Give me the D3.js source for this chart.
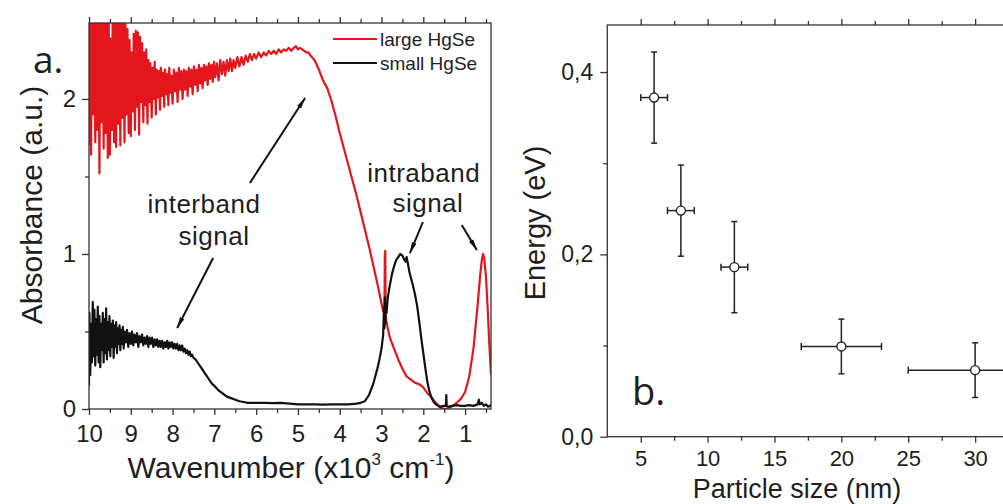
<!DOCTYPE html>
<html><head><meta charset="utf-8">
<script src="https://cdn.jsdelivr.net/npm/d3@7/dist/d3.min.js"></script>
<style>
html,body{margin:0;padding:0;background:#fff;}
svg{display:block;}
text{font-family:"Liberation Sans",Arial,sans-serif;fill:#1e1e1e;}
.tick line,.domain{stroke:#333;stroke-width:1.3;}
</style></head>
<body><svg id="c" width="1003" height="504"></svg>
<script>
// ---------- Panel a: absorbance spectra [wavenumber (x10^3 cm-1), absorbance] ----------
const largeHgSe = [
[10.00,1.70],[9.98,2.80],[9.95,1.64],[9.93,2.70],[9.90,1.90],[9.88,2.90],[9.85,1.72],[9.83,2.65],[9.80,1.80],[9.78,2.75],
[9.75,1.52],[9.73,2.60],[9.70,1.85],[9.68,2.85],[9.65,1.68],[9.63,2.70],[9.60,1.78],[9.58,2.62],[9.55,1.62],[9.53,2.55],
[9.50,1.64],[9.48,2.39],[9.45,1.80],[9.43,2.70],[9.40,1.72],[9.38,2.80],[9.35,1.69],[9.33,2.65],[9.30,1.84],[9.28,2.58],
[9.25,1.70],[9.23,2.62],[9.20,1.88],[9.18,2.55],[9.15,1.72],[9.13,2.50],[9.10,1.90],[9.08,2.45],[9.05,1.78],[9.03,2.38],
[9.00,1.76],[8.98,2.30],[8.95,1.92],[8.93,2.42],[8.90,1.80],[8.88,2.44],[8.85,1.95],[8.83,2.43],[8.80,1.77],[8.78,2.40],
[8.75,1.98],[8.73,2.36],[8.70,1.85],[8.68,2.30],[8.65,1.96],[8.63,2.32],[8.60,1.84],[8.58,2.25],[8.55,1.98],[8.53,2.23],
[8.50,1.88],[8.48,2.20],[8.45,2.00],[8.43,2.24],[8.40,1.90],[8.38,2.19],[8.35,2.01],[8.33,2.18],[8.30,1.93],[8.28,2.20],
[8.25,2.02],[8.23,2.17],[8.20,1.95],[8.18,2.19],[8.15,2.03],[8.13,2.16],[8.10,1.96],[8.08,2.20],[8.05,2.04],[8.03,2.15],
[8.00,1.97],[7.97,2.19],[7.94,2.05],[7.91,2.17],[7.88,1.98],[7.85,2.20],[7.82,2.06],[7.79,2.18],[7.76,2.00],[7.73,2.19],
[7.70,2.06],[7.67,2.18],[7.64,2.02],[7.61,2.20],[7.58,2.08],[7.55,2.19],[7.52,2.03],[7.49,2.21],[7.46,2.09],[7.43,2.19],
[7.40,2.05],[7.37,2.22],[7.34,2.10],[7.31,2.20],[7.28,2.07],[7.25,2.22],[7.22,2.12],[7.19,2.21],[7.16,2.09],[7.13,2.23],
[7.10,2.13],[7.07,2.22],[7.04,2.11],[7.01,2.24],[6.98,2.14],[6.94,2.23],[6.90,2.12],[6.86,2.25],[6.82,2.16],[6.78,2.24],
[6.74,2.15],[6.70,2.25],[6.66,2.18],[6.62,2.26],[6.58,2.18],[6.54,2.25],[6.50,2.20],[6.45,2.27],[6.40,2.21],[6.35,2.27],
[6.30,2.22],[6.25,2.28],[6.20,2.24],[6.15,2.29],[6.10,2.25],[6.05,2.29],[6.00,2.26],[5.94,2.30],[5.88,2.27],[5.82,2.30],
[5.76,2.28],[5.70,2.31],[5.64,2.29],[5.58,2.31],[5.52,2.29],[5.46,2.32],[5.40,2.30],[5.34,2.32],[5.28,2.31],[5.22,2.33],
[5.16,2.31],[5.10,2.33],[5.05,2.34],[5.00,2.32],[4.95,2.33],[4.90,2.32],[4.85,2.31],[4.80,2.30],[4.75,2.30],[4.70,2.28],
[4.60,2.25],[4.50,2.19],[4.40,2.12],[4.30,2.07],[4.20,1.99],[4.10,1.89],[4.00,1.78],[3.90,1.68],[3.80,1.58],[3.70,1.48],
[3.60,1.38],[3.50,1.27],[3.40,1.16],[3.30,1.05],[3.20,0.93],[3.10,0.81],[3.00,0.68],[2.96,0.63],[2.93,0.64],[2.92,1.00],
[2.91,1.02],[2.90,0.60],[2.88,0.56],[2.85,0.52],[2.80,0.46],[2.70,0.39],[2.60,0.32],[2.50,0.26],[2.40,0.21],[2.30,0.19],
[2.20,0.17],[2.10,0.16],[2.00,0.14],[1.90,0.10],[1.80,0.075],[1.70,0.04],[1.60,0.01],[1.50,0.00],[1.40,0.005],[1.30,0.02],
[1.20,0.04],[1.10,0.065],[1.00,0.11],[0.90,0.21],[0.80,0.39],[0.70,0.67],[0.64,0.86],[0.60,0.96],[0.57,1.00],[0.54,0.97],
[0.50,0.85],[0.46,0.65],[0.42,0.42],[0.38,0.22]
];
const smallHgSe = [
[10.00,0.15],[9.99,0.62],[9.97,0.22],[9.95,0.55],[9.93,0.30],[9.91,0.69],[9.89,0.34],[9.87,0.64],[9.85,0.28],[9.83,0.58],
[9.81,0.35],[9.79,0.66],[9.77,0.30],[9.75,0.60],[9.73,0.27],[9.71,0.55],[9.69,0.38],[9.67,0.62],[9.65,0.30],[9.63,0.58],
[9.61,0.36],[9.59,0.65],[9.57,0.32],[9.55,0.56],[9.53,0.38],[9.51,0.60],[9.49,0.34],[9.47,0.55],[9.45,0.40],[9.43,0.57],
[9.41,0.33],[9.39,0.54],[9.37,0.40],[9.35,0.56],[9.33,0.36],[9.31,0.52],[9.29,0.42],[9.27,0.54],[9.25,0.38],[9.23,0.51],
[9.21,0.42],[9.19,0.53],[9.17,0.39],[9.15,0.50],[9.12,0.43],[9.09,0.51],[9.06,0.40],[9.03,0.49],[9.00,0.42],[8.97,0.50],
[8.94,0.41],[8.91,0.48],[8.88,0.43],[8.85,0.49],[8.82,0.40],[8.79,0.47],[8.76,0.43],[8.73,0.48],[8.70,0.41],[8.67,0.46],
[8.64,0.42],[8.61,0.47],[8.58,0.40],[8.55,0.46],[8.52,0.42],[8.49,0.46],[8.46,0.40],[8.43,0.45],[8.40,0.41],[8.37,0.45],
[8.34,0.40],[8.31,0.44],[8.28,0.40],[8.25,0.44],[8.22,0.39],[8.19,0.43],[8.16,0.40],[8.13,0.44],[8.10,0.39],[8.07,0.43],
[8.04,0.40],[8.01,0.43],[7.98,0.39],[7.95,0.42],[7.92,0.39],[7.89,0.42],[7.86,0.38],[7.83,0.41],[7.80,0.38],[7.77,0.41],
[7.74,0.37],[7.71,0.39],[7.68,0.36],[7.65,0.38],[7.62,0.35],[7.59,0.37],[7.56,0.34],[7.53,0.35],[7.50,0.33],[7.45,0.32],
[7.40,0.30],[7.35,0.28],[7.30,0.26],[7.25,0.24],[7.20,0.22],[7.15,0.20],[7.10,0.18],[7.05,0.16],[7.00,0.15],[6.90,0.12],
[6.80,0.10],[6.70,0.08],[6.60,0.07],[6.50,0.06],[6.40,0.05],[6.30,0.045],[6.20,0.04],[6.00,0.04],[5.80,0.04],[5.60,0.038],
[5.40,0.04],[5.20,0.035],[5.00,0.03],[4.80,0.03],[4.60,0.03],[4.40,0.028],[4.20,0.03],[4.00,0.03],[3.80,0.03],[3.60,0.035],
[3.50,0.04],[3.40,0.05],[3.30,0.09],[3.20,0.16],[3.10,0.26],[3.05,0.32],[3.00,0.39],[2.96,0.48],[2.94,0.66],[2.93,0.52],
[2.92,0.72],[2.91,0.55],[2.90,0.68],[2.88,0.62],[2.85,0.72],[2.80,0.80],[2.75,0.87],[2.70,0.92],[2.65,0.96],[2.60,0.98],
[2.55,1.00],[2.50,0.99],[2.45,0.96],[2.42,0.95],[2.40,0.98],[2.37,0.94],[2.33,0.88],[2.30,0.85],[2.25,0.80],[2.20,0.74],
[2.15,0.67],[2.10,0.57],[2.05,0.46],[2.00,0.36],[1.95,0.26],[1.90,0.17],[1.85,0.11],[1.80,0.07],[1.75,0.045],[1.70,0.03],
[1.60,0.015],[1.50,0.02],[1.46,0.02],[1.45,0.09],[1.44,0.02],[1.40,0.015],[1.30,0.02],[1.20,0.025],[1.10,0.02],[1.00,0.02],
[0.90,0.025],[0.80,0.02],[0.70,0.03],[0.67,0.06],[0.65,0.03],[0.60,0.04],[0.55,0.02],[0.50,0.03],[0.45,0.015],[0.40,0.02],
[0.38,0.03]
];
const seriesNames = ["large HgSe","small HgSe"];
const seriesColors = ["#e2161c","#111111"];
const wnMajorTicks = [10,9,8,7,6,5,4,3,2,1];
const wnMinorTicks = [9.5,8.5,7.5,6.5,5.5,4.5,3.5,2.5,1.5,0.5];
const absMajorTicks = [0,1,2];
const absMinorTicks = [0.5,1.5];
// annotations in data coordinates: [wavenumber, absorbance]
const annoTexts = [["interband",7.25,1.265],["signal",7.01,1.058],["intraband",1.99,1.465],["signal",1.89,1.271]];
const annoArrows = [[6.15,1.458,4.83,2.006],[7.03,0.974,7.89,0.523],[2.01,1.206,2.32,1.006],[1.08,1.187,0.72,1.026]];

// ---------- Panel b: energy vs particle size ----------
const particleSize = [6,8,12,20,30];
const energy = [0.372,0.248,0.186,0.099,0.073];
const sizeErr = [1,1,1,3,5];
const energyErr = [0.05,0.05,0.05,0.03,0.03];
const sizeMajorTicks = [5,10,15,20,25,30];
const sizeMinorTicks = [7.5,12.5,17.5,22.5,27.5];
const energyMajorTicks = [0,0.2,0.4];
const energyMinorTicks = [0.1,0.3];

const svg = d3.select("#c");
svg.append("rect").attr("width",1003).attr("height",504).attr("fill","#fff");
svg.append("defs").append("marker").attr("id","arr").attr("viewBox","0 0 12 6")
  .attr("refX",11).attr("refY",3).attr("markerWidth",12).attr("markerHeight",6)
  .attr("markerUnits","userSpaceOnUse").attr("orient","auto")
  .append("path").attr("d","M0,0.6 L12,3 L0,5.4 Z").attr("fill","#111");

// ===== Panel a =====
const xa = d3.scaleLinear().domain([10,0.38]).range([89,491]);
const ya = d3.scaleLinear().domain([0,2.49]).range([409,23]);
const ga = svg.append("g");
ga.append("clipPath").attr("id","clipA").append("rect")
  .attr("x",xa(10)).attr("y",ya(2.49)).attr("width",xa(0.38)-xa(10)).attr("height",ya(0)-ya(2.49));
const lineA = d3.line().x(d=>xa(d[0])).y(d=>ya(d[1]));
const curves = ga.append("g").attr("clip-path","url(#clipA)");
[largeHgSe, smallHgSe].forEach((s,i)=>{
  curves.append("path").datum(s).attr("d",lineA).attr("fill","none")
    .attr("stroke",seriesColors[i]).attr("stroke-width",2.2).attr("stroke-linejoin","round");
});
// frame
ga.append("rect").attr("x",xa(10)).attr("y",ya(2.49)).attr("width",xa(0.38)-xa(10)).attr("height",ya(0)-ya(2.49))
  .attr("fill","none").attr("stroke","#333").attr("stroke-width",1.3);
function styleAxis(g,fs){ g.select(".domain").remove(); g.selectAll("text").attr("font-size",fs).style("fill","#1e1e1e"); }
ga.append("g").attr("transform",`translate(0,${ya(0)})`)
  .call(d3.axisBottom(xa).tickValues(wnMajorTicks).tickFormat(d3.format("d")).tickSize(6).tickPadding(10)).call(g=>styleAxis(g,24));
ga.append("g").attr("transform",`translate(0,${ya(0)})`)
  .call(d3.axisBottom(xa).tickValues(wnMinorTicks).tickFormat("").tickSize(4)).call(g=>styleAxis(g,24));
ga.append("g").attr("transform",`translate(0,${ya(2.49)})`)
  .call(d3.axisTop(xa).tickValues(wnMajorTicks).tickFormat("").tickSize(6)).call(g=>styleAxis(g,24));
ga.append("g").attr("transform",`translate(0,${ya(2.49)})`)
  .call(d3.axisTop(xa).tickValues(wnMinorTicks).tickFormat("").tickSize(4)).call(g=>styleAxis(g,24));
ga.append("g").attr("transform",`translate(${xa(10)},0)`)
  .call(d3.axisLeft(ya).tickValues(absMajorTicks).tickFormat(d3.format("d")).tickSize(7).tickPadding(6)).call(g=>styleAxis(g,24));
ga.append("g").attr("transform",`translate(${xa(10)},0)`)
  .call(d3.axisLeft(ya).tickValues(absMinorTicks).tickFormat("").tickSize(4)).call(g=>styleAxis(g,24));
// titles
const wt = ga.append("text").attr("x",291).attr("y",478).attr("text-anchor","middle").attr("font-size",30);
wt.append("tspan").text("Wavenumber (x10");
wt.append("tspan").attr("font-size",17).attr("dy",-13).text("3");
wt.append("tspan").attr("dy",13).text(" cm");
wt.append("tspan").attr("font-size",17).attr("dy",-13).text("-1");
wt.append("tspan").attr("dy",13).text(")");
ga.append("text").attr("transform","translate(42,205) rotate(-90)").attr("text-anchor","middle")
  .attr("font-size",30).text("Absorbance (a.u.)");
ga.append("text").attr("x",33).attr("y",73).attr("font-size",37).style("font-family","'Open Sans',sans-serif").text("a.");
// legend
seriesNames.forEach((n,i)=>{
  ga.append("line").attr("x1",333).attr("x2",377).attr("y1",39+24*i).attr("y2",39+24*i)
    .attr("stroke",seriesColors[i]).attr("stroke-width",2);
  ga.append("text").attr("x",380).attr("y",46+24*i).attr("font-size",19).text(n);
});
// annotations
annoTexts.forEach(t=>{
  ga.append("text").attr("x",xa(t[1])).attr("y",ya(t[2])).attr("text-anchor","middle")
    .attr("font-size",26).attr("letter-spacing",0.5).text(t[0]);
});
annoArrows.forEach(a=>{
  ga.append("line").attr("x1",xa(a[0])).attr("y1",ya(a[1])).attr("x2",xa(a[2])).attr("y2",ya(a[3]))
    .attr("stroke","#111").attr("stroke-width",2).attr("marker-end","url(#arr)");
});

// ===== Panel b =====
const xb = d3.scaleLinear().domain([2.5,35]).range([607.3,1042]);
const yb = d3.scaleLinear().domain([0,0.4516]).range([436.7,25]);
const gb = svg.append("g");
gb.append("rect").attr("x",xb(2.5)).attr("y",yb(0.4516)).attr("width",xb(35)-xb(2.5)).attr("height",yb(0)-yb(0.4516))
  .attr("fill","none").attr("stroke","#333").attr("stroke-width",1.3);
gb.append("g").attr("transform",`translate(0,${yb(0)})`)
  .call(d3.axisBottom(xb).tickValues(sizeMajorTicks).tickFormat(d3.format("d")).tickSize(6).tickPadding(8)).call(g=>styleAxis(g,22));
gb.append("g").attr("transform",`translate(0,${yb(0)})`)
  .call(d3.axisBottom(xb).tickValues(sizeMinorTicks).tickFormat("").tickSize(4)).call(g=>styleAxis(g,22));
gb.append("g").attr("transform",`translate(0,${yb(0.4516)})`)
  .call(d3.axisTop(xb).tickValues(sizeMajorTicks).tickFormat("").tickSize(6)).call(g=>styleAxis(g,22));
gb.append("g").attr("transform",`translate(0,${yb(0.4516)})`)
  .call(d3.axisTop(xb).tickValues(sizeMinorTicks).tickFormat("").tickSize(4)).call(g=>styleAxis(g,22));
gb.append("g").attr("transform",`translate(${xb(2.5)},0)`)
  .call(d3.axisLeft(yb).tickValues(energyMajorTicks).tickFormat(d=>d.toFixed(1).replace(".",",")).tickSize(7).tickPadding(7)).call(g=>styleAxis(g,23));
gb.append("g").attr("transform",`translate(${xb(2.5)},0)`)
  .call(d3.axisLeft(yb).tickValues(energyMinorTicks).tickFormat("").tickSize(4)).call(g=>styleAxis(g,23));
gb.append("text").attr("x",797).attr("y",498).attr("text-anchor","middle").attr("font-size",27).text("Particle size (nm)");
gb.append("text").attr("transform","translate(545,223) rotate(-90)").attr("text-anchor","middle")
  .attr("font-size",29).text("Energy (eV)");
gb.append("text").attr("x",632).attr("y",405).attr("font-size",38).style("font-family","'Open Sans',sans-serif").text("b.");
const pts = particleSize.map((s,i)=>({s, e:energy[i], se:sizeErr[i], ee:energyErr[i]}));
const eb = gb.append("g").attr("stroke","#222").attr("stroke-width",1.5).attr("fill","none");
pts.forEach(p=>{
  const cx=xb(p.s), cy=yb(p.e), x1=xb(p.s-p.se), x2=xb(p.s+p.se), y1=yb(p.e+p.ee), y2=yb(p.e-p.ee);
  eb.append("line").attr("x1",cx).attr("x2",cx).attr("y1",y1).attr("y2",y2);
  eb.append("line").attr("x1",cx-3).attr("x2",cx+3).attr("y1",y1).attr("y2",y1);
  eb.append("line").attr("x1",cx-3).attr("x2",cx+3).attr("y1",y2).attr("y2",y2);
  eb.append("line").attr("x1",x1).attr("x2",x2).attr("y1",cy).attr("y2",cy);
  eb.append("line").attr("x1",x1).attr("x2",x1).attr("y1",cy-3.5).attr("y2",cy+3.5);
  eb.append("line").attr("x1",x2).attr("x2",x2).attr("y1",cy-3.5).attr("y2",cy+3.5);
});
gb.selectAll("circle.pt").data(pts).join("circle").attr("class","pt")
  .attr("cx",d=>xb(d.s)).attr("cy",d=>yb(d.e)).attr("r",4.5)
  .attr("fill","#fff").attr("stroke","#222").attr("stroke-width",1.4);
</script></body></html>
